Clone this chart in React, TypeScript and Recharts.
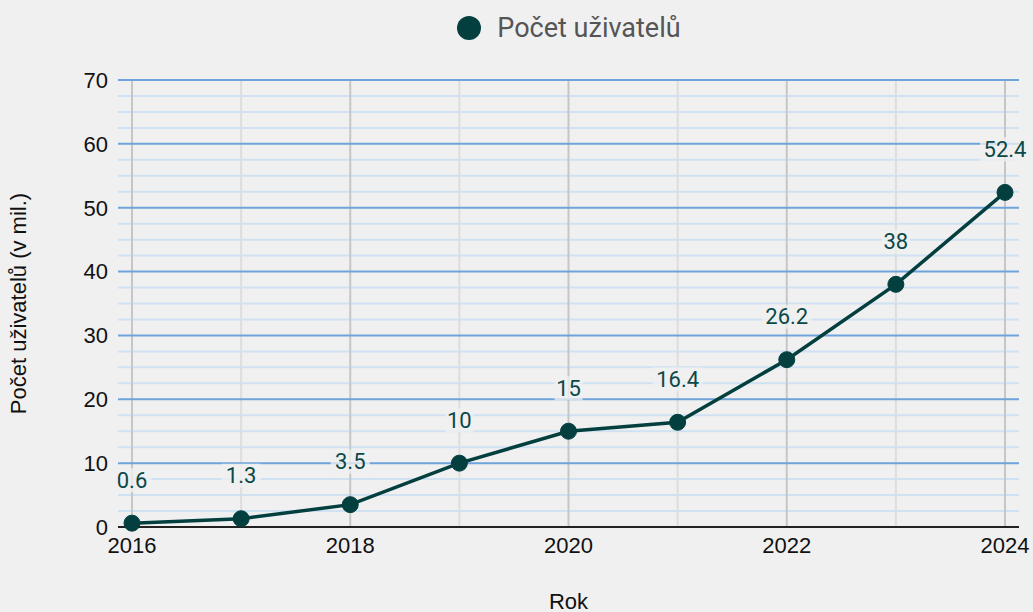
import React from 'react';
import {
  LineChart,
  Line,
  XAxis,
  YAxis,
  Legend,
  ReferenceLine,
  LabelList,
  Label,
} from 'recharts';

const years = [2016, 2017, 2018, 2019, 2020, 2021, 2022, 2023, 2024];
const users = [0.6, 1.3, 3.5, 10, 15, 16.4, 26.2, 38, 52.4];
const xTicks = [2016, 2018, 2020, 2022, 2024];
const yTicks = [0, 10, 20, 30, 40, 50, 60, 70];
const yMinor = [
  2.5, 5, 7.5, 12.5, 15, 17.5, 22.5, 25, 27.5, 32.5, 35, 37.5, 42.5, 45, 47.5,
  52.5, 55, 57.5, 62.5, 65, 67.5,
];
const seriesName = 'Počet uživatelů';

const data = years.map((year, i) => ({ year, users: users[i] }));

const LINE = '#033f3f';
const AXIS_FONT = '"Liberation Sans", Arial, sans-serif';
const LABEL_FONT = 'Roboto, sans-serif';

const renderLegend = () => (
  <div
    style={{
      display: 'flex',
      justifyContent: 'center',
      alignItems: 'center',
      height: 72,
      paddingBottom: 32,
      boxSizing: 'border-box',
      fontFamily: LABEL_FONT,
    }}
  >
    <svg width={26} height={26} style={{ marginRight: 15 }}>
      <circle cx={13} cy={13} r={12} fill={LINE} />
    </svg>
    <span style={{ fontSize: 27, color: '#555' }}>{seriesName}</span>
  </div>
);

const renderValueLabel = (props: any) => {
  const { x, y, value } = props;
  const text = String(value);
  const w = text.length * 11 + 6;
  const cy = y - 43;
  return (
    <g>
      <rect x={x - w / 2} y={cy - 12} width={w} height={24} fill="#f0f0f0" fillOpacity={0.75} />
      <text
        x={x}
        y={cy}
        textAnchor="middle"
        dominantBaseline="central"
        fill="#0b4848"
        fontSize={22}
        fontFamily={LABEL_FONT}
      >
        {text}
      </text>
    </g>
  );
};

const renderYLabel = (props: any) => {
  const { viewBox } = props;
  const cy = viewBox.y + viewBox.height / 2;
  return (
    <text
      x={18}
      y={cy}
      transform={`rotate(-90, 18, ${cy})`}
      textAnchor="middle"
      dominantBaseline="central"
      fill="#111"
      fontSize={22}
      fontFamily={AXIS_FONT}
    >
      Počet uživatelů (v mil.)
    </text>
  );
};

export default function App() {
  return (
    <div style={{ position: 'absolute', left: 0, top: 0, width: 1033, height: 612, background: '#f0f0f0' }}>
      <LineChart width={1033} height={612} data={data} margin={{ top: 8, right: 14, bottom: 0, left: 0 }}>
        <Legend verticalAlign="top" content={renderLegend} wrapperStyle={{ left: 118, width: 901 }} />
        <XAxis
          dataKey="year"
          type="number"
          domain={[2016, 2024]}
          ticks={xTicks}
          padding={{ left: 14, right: 14 }}
          height={85}
          tickLine={false}
          tickMargin={4}
          axisLine={{ stroke: '#222', strokeWidth: 2 }}
          tick={{ fill: '#111', fontSize: 22, fontFamily: AXIS_FONT }}
        >
          <Label
            value="Rok"
            position="insideBottom"
            offset={3}
            style={{ fill: '#111', fontSize: 22, fontFamily: AXIS_FONT }}
          />
        </XAxis>
        <YAxis
          type="number"
          domain={[0, 70]}
          ticks={yTicks}
          width={118}
          axisLine={false}
          tickLine={false}
          tickMargin={4}
          tick={{ fill: '#111', fontSize: 22, fontFamily: AXIS_FONT }}
        >
          <Label content={renderYLabel} />
        </YAxis>
        {yMinor.map((v) => (
          <ReferenceLine key={`m-${v}`} y={v} stroke="#cfe2f3" strokeWidth={2} />
        ))}
        {years.map((yr) => (
          <ReferenceLine
            key={`v-${yr}`}
            x={yr}
            stroke={yr % 2 === 0 ? '#c6c6c6' : '#dddddd'}
            strokeWidth={2}
          />
        ))}
        {yTicks.slice(1).map((v) => (
          <ReferenceLine key={`M-${v}`} y={v} stroke="#6fa3dc" strokeWidth={2} />
        ))}
        <Line
          type="linear"
          dataKey="users"
          name={seriesName}
          stroke={LINE}
          strokeWidth={3.5}
          dot={{ r: 8, fill: LINE, stroke: LINE, strokeWidth: 1 }}
          activeDot={false}
          isAnimationActive={false}
        >
          <LabelList dataKey="users" content={renderValueLabel} />
        </Line>
      </LineChart>
    </div>
  );
}
